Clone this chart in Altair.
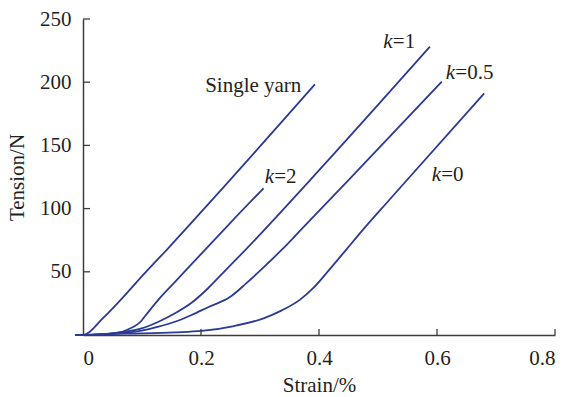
import altair as alt
import pandas as pd

# Tension–strain curves: single yarn and yarns with different k values
single_strain = [-0.013, 0.0, 0.010, 0.020, 0.030, 0.045, 0.075, 0.102, 0.147, 0.220, 0.393]
single_tension = [0.0, 0.0, 2.0, 6.5, 11.5, 18.5, 33.5, 47.5, 70.0, 107.5, 198.3]

k2_strain = [-0.013, 0.0, 0.030, 0.060, 0.077, 0.0995, 0.105, 0.128, 0.156, 0.184, 0.212, 0.249, 0.306]
k2_tension = [0.0, 0.0, 0.4, 1.8, 4.6, 11.5, 14.8, 28.0, 42.0, 56.0, 70.0, 88.4, 116.1]

k1_strain = [-0.013, 0.0, 0.040, 0.071, 0.0995, 0.128, 0.156, 0.184, 0.212, 0.241, 0.275, 0.385, 0.588]
k1_tension = [0.0, 0.0, 0.8, 2.6, 5.3, 10.5, 17.2, 25.5, 37.0, 51.0, 67.2, 122.6, 228.1]

k05_strain = [-0.013, 0.0, 0.050, 0.0995, 0.128, 0.156, 0.184, 0.212, 0.249, 0.277, 0.306, 0.337, 0.368, 0.450, 0.608]
k05_tension = [0.0, 0.0, 1.0, 3.4, 6.6, 10.5, 15.8, 22.0, 30.0, 41.0, 53.5, 67.5, 82.5, 122.6, 200.4]

k0_strain = [-0.013, 0.0, 0.043, 0.0995, 0.156, 0.201, 0.256, 0.306, 0.337, 0.368, 0.390, 0.419, 0.447, 0.475, 0.519, 0.680]
k0_tension = [0.0, 0.0, 0.8, 1.3, 2.1, 3.2, 7.1, 13.2, 19.5, 28.0, 37.0, 52.5, 68.0, 83.5, 106.8, 191.2]

series = {
    "Single yarn": (single_strain, single_tension),
    "k=2": (k2_strain, k2_tension),
    "k=1": (k1_strain, k1_tension),
    "k=0.5": (k05_strain, k05_tension),
    "k=0": (k0_strain, k0_tension),
}

# Curve labels (anchor in data units)
plain_label_text = ["Single yarn"]
plain_label_x = [0.207]
plain_label_y = [197.0]

k_label_value = ["=2", "=1", "=0.5", "=0"]
k_label_x = [0.308, 0.509, 0.615, 0.591]
k_label_y = [125.2, 232.0, 207.0, 126.6]

x_tick_values = [0.2, 0.4, 0.6, 0.8]
x_label_values = [0.0, 0.2, 0.4, 0.6, 0.8]
y_tick_values = [50, 100, 150, 200, 250]

rows = []
for name, (xs, ys) in series.items():
    for i, (xv, yv) in enumerate(zip(xs, ys)):
        rows.append({"series": name, "strain": xv, "tension": yv, "order": i})
curves = pd.DataFrame(rows)

LINE = "#2B3A94"
AXIS = "#3C3C3C"
TEXT = "#231F20"
FONT = "Liberation Serif"
FS = 21
W, H = 472, 316

x_scale = alt.Scale(domain=[0, 0.8], nice=False, zero=False)
y_scale = alt.Scale(domain=[0, 250], nice=False)

lines = alt.Chart(curves).mark_line(color=LINE, strokeWidth=1.8, interpolate="monotone").encode(
    x=alt.X("strain:Q", scale=x_scale,
            axis=alt.Axis(values=x_label_values, title="Strain/%",
                          labelExpr="datum.value == 0 ? '0' : format(datum.value, '.1f')",
                          labelPadding=12, titlePadding=6)),
    y=alt.Y("tension:Q", scale=y_scale,
            axis=alt.Axis(values=y_tick_values, title="Tension/N",
                          labelPadding=12, titlePadding=12)),
    detail="series:N",
    order="order:Q",
)

x_ticks = alt.Chart(pd.DataFrame({"v": x_tick_values})).mark_rule(color=AXIS, strokeWidth=1.3).encode(
    x=alt.X("v:Q", scale=x_scale), y=alt.value(H), y2=alt.value(H - 6)
)
y_ticks = alt.Chart(pd.DataFrame({"v": y_tick_values})).mark_rule(color=AXIS, strokeWidth=1.3).encode(
    y=alt.Y("v:Q", scale=y_scale), x=alt.value(0), x2=alt.value(7)
)

plain_labels = alt.Chart(pd.DataFrame({"x": plain_label_x, "y": plain_label_y, "t": plain_label_text})).mark_text(
    font=FONT, fontSize=FS, color=TEXT, align="left", baseline="middle"
).encode(x=alt.X("x:Q", scale=x_scale), y=alt.Y("y:Q", scale=y_scale), text="t:N")

k_df = pd.DataFrame({"x": k_label_x, "y": k_label_y, "t": k_label_value})
k_italic = alt.Chart(k_df).mark_text(
    font=FONT, fontSize=FS, fontStyle="italic", color=TEXT, align="left", baseline="middle"
).encode(x=alt.X("x:Q", scale=x_scale), y=alt.Y("y:Q", scale=y_scale), text=alt.value("k"))
k_rest = alt.Chart(k_df).mark_text(
    font=FONT, fontSize=FS, color=TEXT, align="left", baseline="middle", dx=9.5
).encode(x=alt.X("x:Q", scale=x_scale), y=alt.Y("y:Q", scale=y_scale), text="t:N")

chart = alt.layer(lines, x_ticks, y_ticks, plain_labels, k_italic, k_rest).properties(
    width=W, height=H,
    autosize=alt.AutoSizeParams(type="none"),
    padding={"left": 83, "top": 19, "right": 8, "bottom": 62},
    background="white",
).configure_view(stroke=None).configure_axis(
    grid=False, ticks=False, tickSize=0,
    domainColor=AXIS, domainWidth=1.5,
    labelFont=FONT, labelFontSize=FS, labelColor=TEXT,
    titleFont=FONT, titleFontSize=FS, titleColor=TEXT, titleFontWeight="normal",
)

chart.save("out.html", embed_options={"renderer": "svg", "actions": False})
